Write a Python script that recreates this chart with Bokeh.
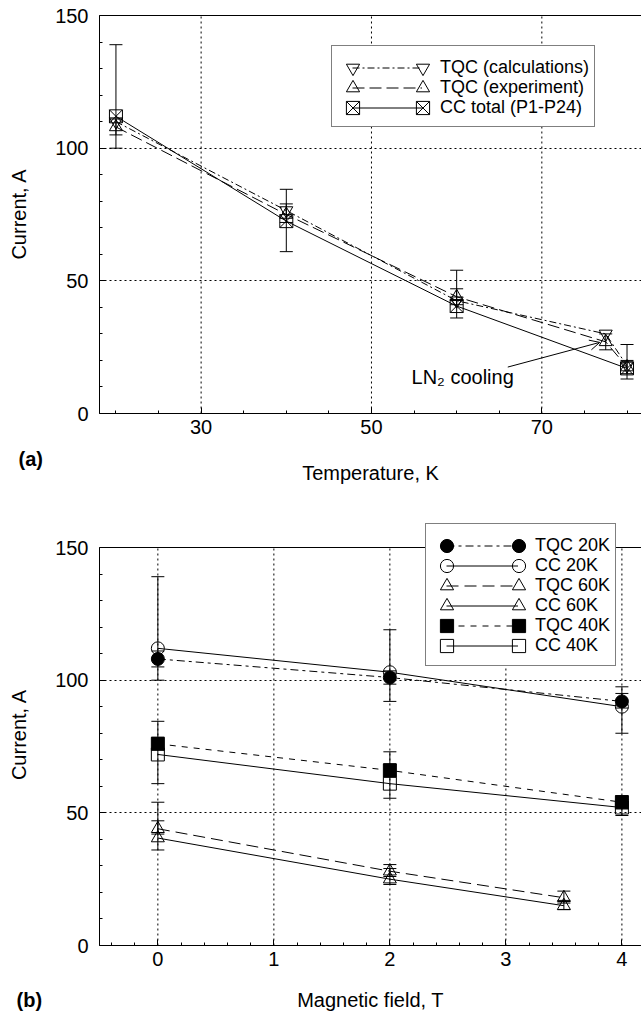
from bokeh.plotting import figure
from bokeh.models import (Range1d, FixedTicker, Whisker, TeeHead, Span, Title,
                          ColumnDataSource, Legend, LegendItem, Label, Arrow, OpenHead)
from bokeh.layouts import column
from bokeh.embed import file_html
from bokeh.resources import INLINE

FONT = "Liberation Sans"
FS = "20px"
LFS = "18px"

# ---------------- (a) current vs temperature ----------------
temp_calc = [20, 40, 60, 77.5, 80]
cur_calc = [110, 76.5, 42.5, 30, 18]
temp_exp = [20, 40, 60, 77.5, 80]
cur_exp = [108, 75, 44, 27, 17.5]
exp_lo = [105, 72, 41, 24, 15]
exp_hi = [111, 79, 47, 30, 20]
temp_cc = [20, 40, 60, 80]
cur_cc = [112, 72.5, 40.5, 17]
cc_lo = [100, 61, 36, 13]
cc_hi = [139, 84.5, 54, 26]
a_xticks = [30, 50, 70]
a_xminor = list(range(20, 81, 5))
a_yticks = [0, 50, 100, 150]
a_labels = ["TQC (calculations)", "TQC (experiment)", "CC total (P1-P24)"]

# ---------------- (b) current vs magnetic field ----------------
field = [0, 2, 4]
field_60 = [0, 2, 3.5]
tqc20 = [108, 101, 92]
tqc20_lo = [105, 98.5, 89.5]
tqc20_hi = [111, 103.5, 95]
cc20 = [112, 103, 90]
cc20_lo = [100, 92, 80]
cc20_hi = [139, 119, 97.5]
tqc60 = [44, 28, 18]
tqc60_lo = [42, 26, 16]
tqc60_hi = [47, 30.5, 20.5]
cc60 = [40.5, 25, 15]
cc60_lo = [36, 23, 13.5]
cc60_hi = [54, 29, 17]
tqc40 = [76, 66, 54]
tqc40_lo = [74, 63.5, 51.5]
tqc40_hi = [78.5, 68.5, 56.5]
cc40 = [72, 61, 52]
cc40_lo = [61, 55.5, 49]
cc40_hi = [84.5, 73, 55]
b_xticks = [0, 1, 2, 3, 4]
b_xminor = [round(-0.4 + 0.2 * i, 1) for i in range(23)]
b_yticks = [0, 50, 100, 150]
b_labels = ["TQC 20K", "CC 20K", "TQC 60K", "CC 60K", "TQC 40K", "CC 40K"]

Y_MINOR = list(range(0, 151, 10))


def style_axis(ax):
    ax.major_label_text_font = FONT
    ax.major_label_text_font_size = FS
    ax.major_label_text_color = "black"
    ax.axis_label_text_font = FONT
    ax.axis_label_text_font_size = FS
    ax.axis_label_text_font_style = "normal"
    ax.axis_label_text_color = "black"
    ax.axis_line_color = "black"
    ax.major_tick_line_color = "black"
    ax.minor_tick_line_color = "black"
    ax.major_tick_in = 6
    ax.major_tick_out = 0
    ax.minor_tick_in = 3
    ax.minor_tick_out = 0


def make_fig(height, xr, yr, borders, xt, xminor, yt, xlabel, xlabel_standoff):
    top, bottom, left = borders
    p = figure(width=641, height=height, x_range=Range1d(*xr), y_range=Range1d(*yr),
               output_backend="svg", toolbar_location=None,
               min_border_left=left, min_border_right=0,
               min_border_top=top, min_border_bottom=bottom,
               outline_line_color=None, background_fill_color="white",
               border_fill_color="white")
    p.xaxis.ticker = FixedTicker(ticks=xt, minor_ticks=xminor)
    p.yaxis.ticker = FixedTicker(ticks=yt, minor_ticks=Y_MINOR)
    p.yaxis.bounds = (yt[0], yt[-1])
    for ax in p.xaxis:
        style_axis(ax)
        ax.axis_label = xlabel
        ax.major_label_standoff = 6
        ax.axis_label_standoff = xlabel_standoff
    for ax in p.yaxis:
        style_axis(ax)
        ax.axis_label = "Current, A"
        ax.major_label_standoff = 11
        ax.axis_label_standoff = 22
    # top border line of the box
    p.add_layout(Span(location=yt[-1], dimension="width", line_color="black", line_width=1))
    # dotted grid limited to the axis box
    p.xgrid.visible = False
    p.segment(x0=xt, y0=[yt[0]] * len(xt), x1=xt, y1=[yt[-1]] * len(xt),
              line_color="black", line_width=1, line_dash="2 3")
    p.ygrid.ticker = FixedTicker(ticks=yt[1:-1])
    p.ygrid.grid_line_color = "black"
    p.ygrid.grid_line_dash = "2 3"
    p.ygrid.grid_line_width = 1
    return p


def whisker(p, base, lo, hi):
    src = ColumnDataSource(dict(base=base, lower=lo, upper=hi))
    w = Whisker(source=src, base="base", lower="lower", upper="upper", dimension="height",
                line_color="black", line_width=1,
                upper_head=TeeHead(size=13, line_color="black", line_width=1),
                lower_head=TeeHead(size=13, line_color="black", line_width=1))
    p.add_layout(w)


def series(p, x, y, dash, marker, filled):
    ln = p.line(x, y, line_color="black", line_width=1, line_dash=dash)
    mk = p.scatter(x, y, marker=marker, size=13, line_color="black", line_width=1,
                   fill_color="black" if filled else None)
    return ln, mk


def legend_box(p, invisible, fl, fb, box_left, box_top, box_w, box_h):
    lg = Legend(items=[LegendItem(label=" ", renderers=[invisible])],
                location=(box_left - fl, fb - (box_top + box_h)),
                glyph_width=box_w - 5, glyph_height=box_h, label_height=10,
                label_width=0, label_standoff=0, padding=0, spacing=0, margin=0,
                label_text_font=FONT, label_text_font_size=LFS,
                border_line_color="black", border_line_width=1,
                background_fill_color="white", background_fill_alpha=1)
    p.add_layout(lg)


def legend_rows(p, rows, labels, fl, fb, centers, left_c, line_w, standoff, gh=33):
    common = dict(glyph_height=gh, label_height=10, spacing=0, padding=0, margin=0,
                  label_text_font=FONT, label_text_font_size=LFS, label_text_color="black",
                  border_line_color=None, background_fill_alpha=0)
    for (ln, mk), lab, cy in zip(rows, labels, centers):
        vy = fb - (cy + gh / 2)
        p.add_layout(Legend(items=[LegendItem(label=lab, renderers=[ln])],
                            location=(left_c - fl, vy), glyph_width=line_w,
                            label_standoff=standoff, label_width=0, **common))
        for c in (left_c, left_c + line_w):
            p.add_layout(Legend(items=[LegendItem(label=" ", renderers=[mk])],
                                location=(c - gh / 2 - fl, vy), glyph_width=gh,
                                label_standoff=0, label_width=0, **common))


# ---------- figure (a) ----------
p1 = make_fig(500, (18.07, 81.70), (0, 150.38), (14, 87, 97), a_xticks, a_xminor, a_yticks,
              "Temperature, K", 25)
whisker(p1, temp_cc, cc_lo, cc_hi)
whisker(p1, temp_exp, exp_lo, exp_hi)
r_calc = series(p1, temp_calc, cur_calc, "7 3 2 3", "inverted_triangle", False)
r_exp = series(p1, temp_exp, cur_exp, "12 5", "triangle", False)
r_cc = series(p1, temp_cc, cur_cc, "solid", "square_x", False)
inv1 = p1.line(temp_cc, cur_cc, line_alpha=0)
legend_box(p1, inv1, 97, 413, 329, 47, 267, 80)
legend_rows(p1, [r_calc, r_exp, r_cc], a_labels, 97, 413, [67, 87, 107], 350, 70, 18)
p1.add_layout(Label(x=54.7, y=13.6, text="LN\u2082 cooling", text_font=FONT,
                    text_font_size=FS, text_baseline="middle", text_align="left",
                    text_color="black"))
p1.add_layout(Arrow(x_start=66, y_start=17.5, x_end=76.8, y_end=26.8, line_width=1,
                    line_color="black", end=OpenHead(size=10, line_width=1, line_color="black")))
p1.add_layout(Title(text="(a)", align="left", offset=16 - 97, vertical_align="top",
                    standoff=-77, text_font=FONT, text_font_size=FS,
                    text_font_style="bold", text_color="black"), "below")

# ---------- figure (b) ----------
p2 = make_fig(517, (-0.503, 4.169), (0, 159.05), (23, 72, 99), b_xticks, b_xminor, b_yticks,
              "Magnetic field, T", 20)
whisker(p2, field, cc20_lo, cc20_hi)
whisker(p2, field, tqc20_lo, tqc20_hi)
whisker(p2, field, cc40_lo, cc40_hi)
whisker(p2, field, tqc40_lo, tqc40_hi)
whisker(p2, field_60, cc60_lo, cc60_hi)
whisker(p2, field_60, tqc60_lo, tqc60_hi)
r1 = series(p2, field, tqc20, "8 4 3 4", "circle", True)
r2 = series(p2, field, cc20, "solid", "circle", False)
r3 = series(p2, field_60, tqc60, "12 6", "triangle", False)
r4 = series(p2, field_60, cc60, "solid", "triangle", False)
r5 = series(p2, field, tqc40, "6 6", "square", True)
r6 = series(p2, field, cc40, "solid", "square", False)
inv2 = p2.line(field, cc20, line_alpha=0)
legend_box(p2, inv2, 99, 945, 425, 525, 194, 141)
legend_rows(p2, [r1, r2, r3, r4, r5, r6], b_labels, 99, 945,
            [545.5, 565.5, 585.5, 605.5, 625.5, 645.5], 446, 72, 17)
p2.add_layout(Title(text="(b)", align="left", offset=16 - 99, vertical_align="top",
                    standoff=-49, text_font=FONT, text_font_size=FS,
                    text_font_style="bold", text_color="black"), "below")

layout = column(p1, p2, spacing=0)
open("out.html", "w").write(file_html(layout, INLINE))
